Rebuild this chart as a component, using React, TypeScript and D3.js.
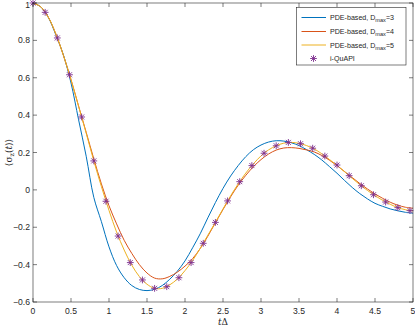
import * as d3 from "d3";

// time grid for the PDE-based curves
const tGrid = [
  0, 0.1, 0.2, 0.3, 0.4, 0.5, 0.6, 0.7, 0.8, 0.9,
  1.0, 1.1, 1.2, 1.3, 1.4, 1.5, 1.6, 1.7, 1.8, 1.9,
  2.0, 2.1, 2.2, 2.3, 2.4, 2.5, 2.6, 2.7, 2.8, 2.9,
  3.0, 3.1, 3.2, 3.3, 3.4, 3.5, 3.6, 3.7, 3.8, 3.9,
  4.0, 4.1, 4.2, 4.3, 4.4, 4.5, 4.6, 4.7, 4.8, 4.9, 5.0,
];

// PDE-based, Dmax=3
const pdeD3 = [
  1.0, 0.98, 0.924, 0.83, 0.722, 0.572, 0.375, 0.18, -0.04, -0.17,
  -0.305, -0.405, -0.47, -0.512, -0.533, -0.539, -0.532, -0.512, -0.478, -0.435,
  -0.38, -0.31, -0.235, -0.15, -0.068, 0.008, 0.074, 0.13, 0.178, 0.215,
  0.24, 0.256, 0.263, 0.261, 0.252, 0.237, 0.215, 0.19, 0.16, 0.125,
  0.089, 0.05, 0.013, -0.02, -0.048, -0.072, -0.088, -0.102, -0.112, -0.12, -0.125,
];

// PDE-based, Dmax=4
const pdeD4 = [
  1.0, 0.98, 0.925, 0.835, 0.72, 0.59, 0.448, 0.308, 0.166, 0.032,
  -0.085, -0.182, -0.27, -0.34, -0.4, -0.445, -0.472, -0.476, -0.463, -0.44,
  -0.408, -0.368, -0.314, -0.248, -0.176, -0.105, -0.037, 0.025, 0.078, 0.124,
  0.162, 0.192, 0.213, 0.224, 0.226, 0.222, 0.214, 0.203, 0.184, 0.159,
  0.13, 0.098, 0.066, 0.034, 0.005, -0.022, -0.045, -0.066, -0.082, -0.093, -0.098,
];

// PDE-based, Dmax=5
const pdeD5 = [
  1.0, 0.98, 0.925, 0.835, 0.72, 0.59, 0.447, 0.303, 0.155, 0.018,
  -0.11, -0.226, -0.322, -0.403, -0.464, -0.505, -0.527, -0.527, -0.508, -0.477,
  -0.432, -0.378, -0.313, -0.243, -0.174, -0.102, -0.032, 0.032, 0.09, 0.139,
  0.182, 0.214, 0.236, 0.25, 0.254, 0.249, 0.237, 0.219, 0.193, 0.163,
  0.131, 0.097, 0.062, 0.028, -0.003, -0.031, -0.056, -0.077, -0.095, -0.106, -0.112,
];

// i-QuAPI points
const quapiT = [
  0, 0.16, 0.32, 0.48, 0.64, 0.8, 0.96, 1.12, 1.28, 1.44, 1.6,
  1.76, 1.92, 2.08, 2.24, 2.4, 2.56, 2.72, 2.88, 3.04, 3.2,
  3.36, 3.52, 3.68, 3.84, 4.0, 4.16, 4.32, 4.48, 4.64, 4.8, 4.96,
];
const quapiY = [
  1.0, 0.95, 0.813, 0.616, 0.39, 0.155, -0.061, -0.247, -0.389, -0.482, -0.527,
  -0.518, -0.47, -0.389, -0.286, -0.174, -0.059, 0.044, 0.13, 0.196, 0.236,
  0.254, 0.247, 0.223, 0.181, 0.133, 0.076, 0.022, -0.026, -0.065, -0.095, -0.111,
];

const xTicks = [0, 0.5, 1, 1.5, 2, 2.5, 3, 3.5, 4, 4.5, 5];
const yTicks = [-0.6, -0.4, -0.2, 0, 0.2, 0.4, 0.6, 0.8, 1];

const legendItems = [
  { sub: "max", tail: "=3", color: "#0072BD" },
  { sub: "max", tail: "=4", color: "#D95319" },
  { sub: "max", tail: "=5", color: "#EDB120" },
];
const markerColor = "#7E2F8E";

export default function App() {
  const width = 415,
    height = 326;
  const margin = { top: 3, right: 2, bottom: 24, left: 33 };
  const x = d3.scaleLinear().domain([0, 5]).range([margin.left, width - margin.right]);
  const y = d3.scaleLinear().domain([-0.6, 1]).range([height - margin.bottom, margin.top]);
  const [x0, x1] = x.range();
  const [yb, yt] = y.range();

  const line = d3
    .line<number>()
    .x((_, i) => x(tGrid[i]))
    .y((d) => y(d))
    .curve(d3.curveCatmullRom);

  const series = [pdeD3, pdeD4, pdeD5];
  const axisColor = "#262626";
  const tickLen = 4;
  const font = "'Liberation Sans', Arial, sans-serif";

  const star = (cx: number, cy: number, k: number) => {
    const r = 3.4,
      d = 2.5;
    return (
      <path
        key={k}
        d={`M${cx - r},${cy}H${cx + r}M${cx},${cy - r}V${cy + r}M${cx - d},${cy - d}L${cx + d},${cy + d}M${cx - d},${cy + d}L${cx + d},${cy - d}`}
        stroke={markerColor}
        strokeWidth={0.9}
        fill="none"
      />
    );
  };

  // legend
  const lg = { x: 296.5, y: 7.5, w: 109.5, h: 57.5 };
  const rowY = [17.5, 31.5, 45, 58.5];

  return (
    <svg
      width={width}
      height={height}
      style={{ position: "absolute", left: 0, top: 0, background: "#fff" }}
      fontFamily={font}
    >
      <rect x={0} y={0} width={width} height={height} fill="#fff" />
      {/* curves */}
      {series.map((s, i) => (
        <path key={i} d={line(s) || ""} fill="none" stroke={legendItems[i].color} strokeWidth={1} />
      ))}
      {quapiT.map((t, i) => star(x(t), y(quapiY[i]), i))}

      {/* axes box */}
      <rect x={x0} y={yt} width={x1 - x0} height={yb - yt} fill="none" stroke={axisColor} strokeWidth={0.6} />
      {xTicks.map((t) => (
        <g key={"xt" + t}>
          <line x1={x(t)} x2={x(t)} y1={yb} y2={yb - tickLen} stroke={axisColor} strokeWidth={0.6} />
          <line x1={x(t)} x2={x(t)} y1={yt} y2={yt + tickLen} stroke={axisColor} strokeWidth={0.6} />
          <text x={x(t)} y={yb + 12} textAnchor="middle" fontSize={8.6} fill={axisColor}>
            {t}
          </text>
        </g>
      ))}
      {yTicks.map((v) => (
        <g key={"yt" + v}>
          <line x1={x0} x2={x0 + tickLen} y1={y(v)} y2={y(v)} stroke={axisColor} strokeWidth={0.6} />
          <line x1={x1} x2={x1 - tickLen} y1={y(v)} y2={y(v)} stroke={axisColor} strokeWidth={0.6} />
          <text x={x0 - 3} y={Math.max(y(v) + 3, 8)} textAnchor="end" fontSize={8.6} fill={axisColor}>
            {d3.format("")(+v.toFixed(1))}
          </text>
        </g>
      ))}

      {/* axis labels */}
      <text x={(x0 + x1) / 2} y={height - 1} textAnchor="middle" fontSize={9} fill={axisColor} fontFamily="'DejaVu Serif', serif">
        <tspan fontStyle="italic">t</tspan>Δ
      </text>
      <text
        transform={`translate(12,${(yb + yt) / 2}) rotate(-90)`}
        textAnchor="middle"
        fontSize={9}
        fill={axisColor}
        fontFamily="'DejaVu Serif', serif"
      >
        ⟨σ<tspan fontSize={6.5} dy={2}>z</tspan>
        <tspan dy={-2}>(</tspan>
        <tspan fontStyle="italic">t</tspan>)⟩
      </text>

      {/* legend */}
      <rect x={lg.x} y={lg.y} width={lg.w} height={lg.h} fill="#fff" stroke={axisColor} strokeWidth={0.6} />
      {legendItems.map((it, i) => (
        <g key={"lg" + i}>
          <line x1={301.5} x2={326} y1={rowY[i]} y2={rowY[i]} stroke={it.color} strokeWidth={1} />
          <text x={330} y={rowY[i] + 2.6} fontSize={7.1} fill={axisColor}>
            PDE-based, D<tspan fontSize={5.6} dy={2}>{it.sub}</tspan>
            <tspan dy={-2}>{it.tail}</tspan>
          </text>
        </g>
      ))}
      {star(313.5, rowY[3], 99)}
      <text x={330} y={rowY[3] + 2.6} fontSize={7.1} fill={axisColor}>
        i-QuAPI
      </text>
    </svg>
  );
}
